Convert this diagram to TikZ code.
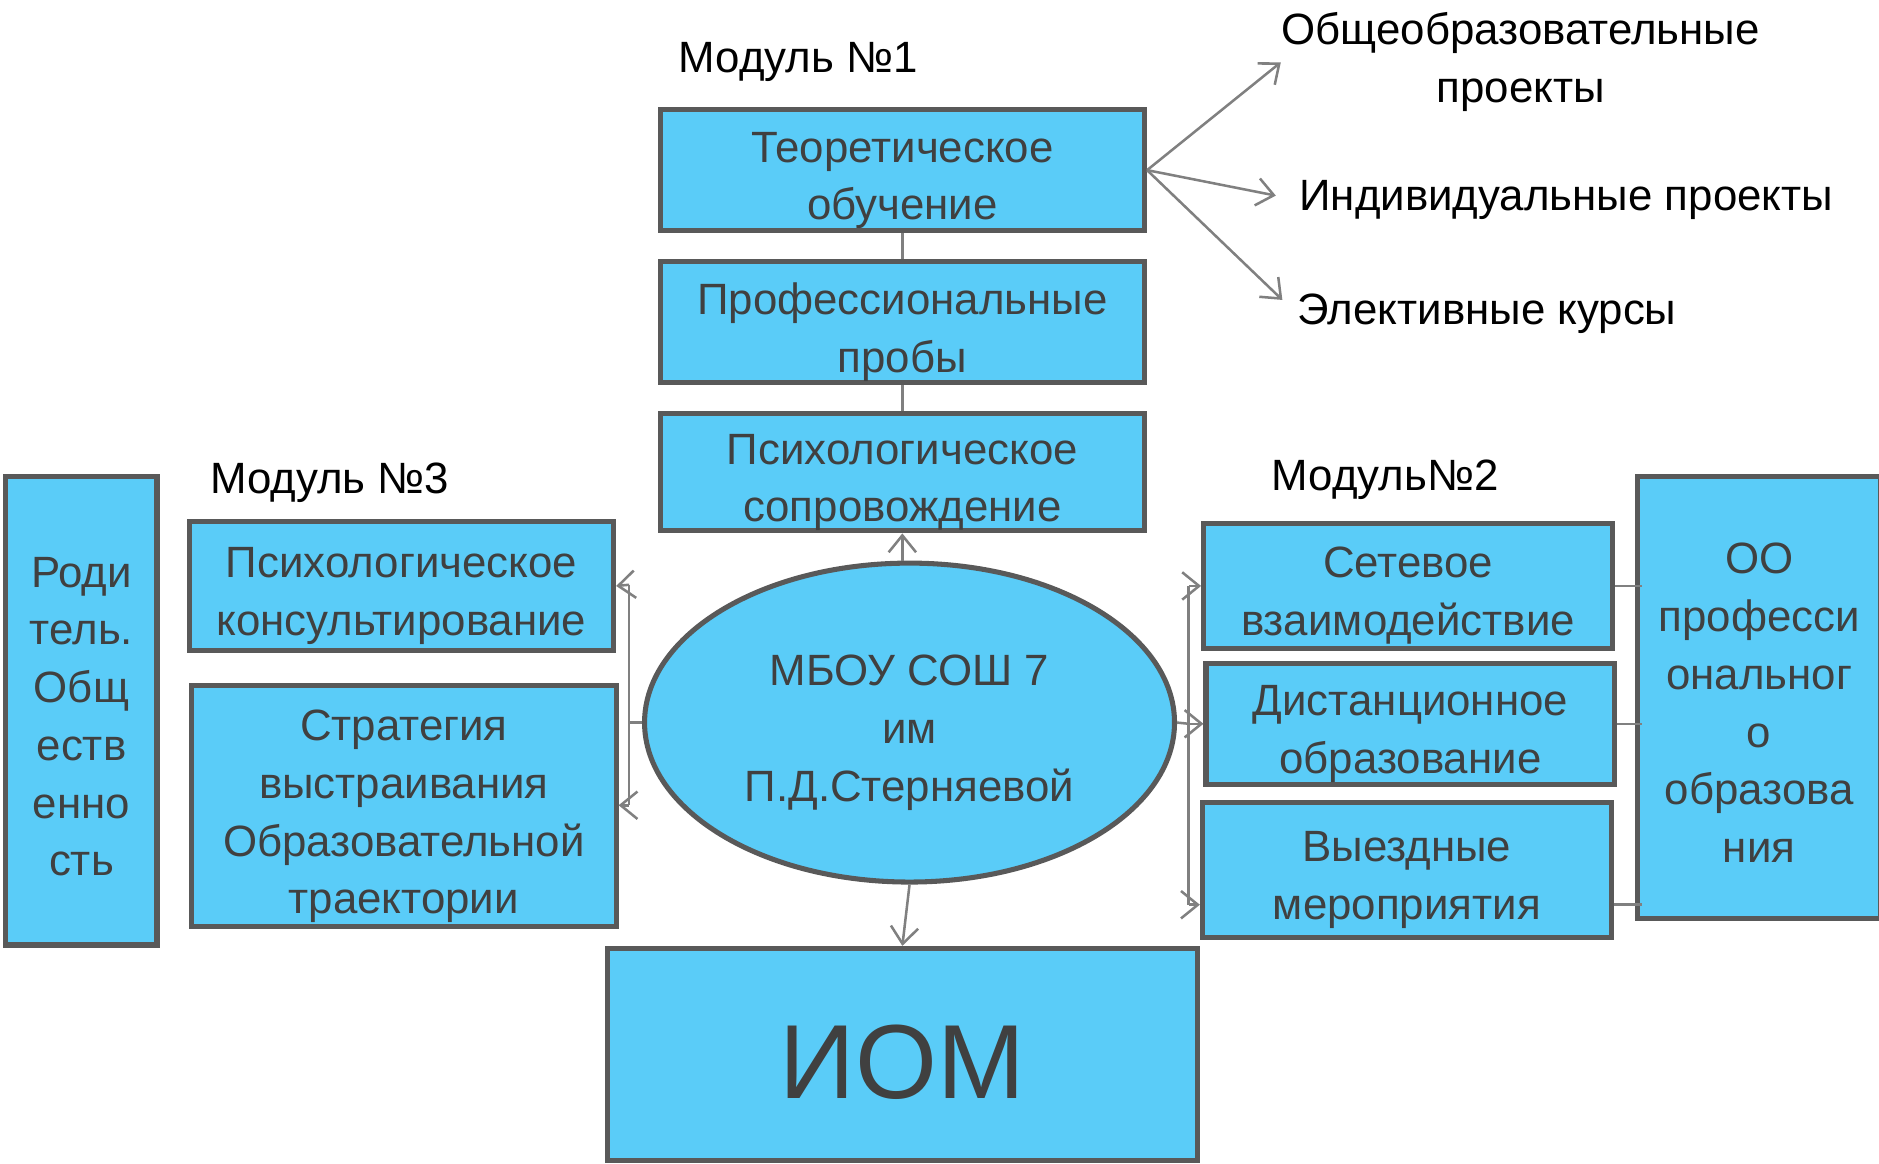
\documentclass[tikz,border=0pt]{standalone}
\usepackage{fontspec}
\setmainfont{Liberation Sans}
\definecolor{BoxBlue}{RGB}{90,204,248}
\definecolor{BoxEdge}{RGB}{89,89,89}
\definecolor{BoxText}{RGB}{64,64,64}
\definecolor{LinkGray}{RGB}{128,128,128}
\newcommand{\padtop}{\rule{0pt}{9.9pt}}
\usetikzlibrary{shapes,arrows,arrows.meta}

\begin{document}
\begin{tikzpicture}[x=0.01cm,y=-0.01cm]
				\tikzstyle{every node}=[font=\fontsize{10.4}{13.7}\selectfont, align=center, inner sep=0pt];
				\tikzstyle{box}=[draw=BoxEdge, fill=BoxBlue, line width=1.2pt, text=BoxText, text depth=0pt];
				\tikzstyle{link}=[draw=LinkGray, line width=0.6pt];
				\tikzstyle{arr}=[link, -{Straight Barb[length=4pt,width=6.5pt]}];
				\useasboundingbox (0,0) rectangle (1568,971);
				\node (mod1) at (666,52) {Модуль №1};
				\node [box, minimum width=4.04cm, minimum height=1.01cm] (teo) at (753,142) {\padtop Теоретическое\\обучение};
				\node [box, minimum width=4.04cm, minimum height=1.01cm] (prof) at (753,269) {\padtop Профессиональные\\пробы};
				\node [box, minimum width=4.04cm, minimum height=0.98cm] (psy) at (753,394) {\padtop Психологическое\\сопровождение};
				\draw[link] (teo) -- (prof);
				\draw[link] (prof) -- (psy);
				\node (obsh) at (1269,52) {Общеобразовательные\\проекты};
				\node (ind) at (1307,167) {Индивидуальные проекты};
				\node (elek) at (1241,262) {Элективные курсы};
				\draw[arr] (teo.east) -- (obsh.west);
				\draw[arr, shorten >=5.5pt] (teo.east) -- (ind.west);
				\draw[arr, shorten >=4.8pt] (teo.east) -- (elek.west);
				\node [ellipse, box, minimum width=4.42cm, minimum height=2.66cm] (mbou) at (759,603) {\padtop МБОУ СОШ 7\\им\\П.Д.Стерняевой};
				\draw[arr] (psy.south |- mbou.north) -- (psy.south);
				\node [box, minimum width=4.92cm, minimum height=1.77cm, font=\fontsize{25}{30}\selectfont] (iom) at (753,880) {\rule{0pt}{20.7pt}ИОМ};
				\draw[arr] (mbou.south) -- (iom.north);
				\node (mod2) at (1156,400) {Модуль№2};
				\node [box, minimum width=3.41cm, minimum height=1.04cm] (set) at (1175,489) {\padtop Сетевое\\взаимодействие};
				\node [box, minimum width=3.41cm, minimum height=1.01cm] (dist) at (1177,604) {\padtop Дистанционное\\образование};
				\node [box, minimum width=3.41cm, minimum height=1.13cm] (vyez) at (1174,726) {\padtop Выездные\\мероприятия};
				\node [box, minimum width=2.03cm, minimum height=3.69cm] (oo) at (1468,582) {\padtop ОО\\професси\\ональног\\о\\образова\\ния};
				\coordinate (rm) at (992,604);
				\coordinate (rt) at (992,489);
				\coordinate (rb) at (992,755);
				\draw[link] (mbou.east) -- (rm);
				\draw[link] (rt) -- (rb);
				\draw[arr] (rt) -- (set.west);
				\draw[arr] (rm) -- (dist.west);
				\draw[arr] (rb) -- (rb -| vyez.west);
				\draw[link, shorten >=-1.7pt] (set.east) -- (set.east -| oo.west);
				\draw[link, shorten >=-1.7pt] (dist.east) -- (dist.east -| oo.west);
				\draw[link, shorten >=-1.7pt] (rb -| vyez.east) -- (rb -| oo.west);
				\node (mod3) at (275,403) {Модуль №3};
				\node [box, minimum width=1.26cm, minimum height=3.91cm] (rod) at (68,593) {\padtop Роди\\тель.\\Общ\\еств\\енно\\сть};
				\node [box, minimum width=3.54cm, minimum height=1.08cm] (kons) at (335,489) {\padtop Психологическое\\консультирование};
				\node [box, minimum width=3.54cm, minimum height=2.01cm] (strat) at (337,673) {\padtop Стратегия\\выстраивания\\Образовательной\\траектории};
				\coordinate (lm) at (525,603);
				\coordinate (lt) at (525,488);
				\coordinate (lb) at (525,672);
				\draw[link] (mbou.west) -- (lm);
				\draw[link] (lt) -- (lb);
				\draw[arr] (lt) -- (kons.east);
				\draw[arr] (lb) -- (lb -| strat.east);
			\end{tikzpicture}
\end{document}
